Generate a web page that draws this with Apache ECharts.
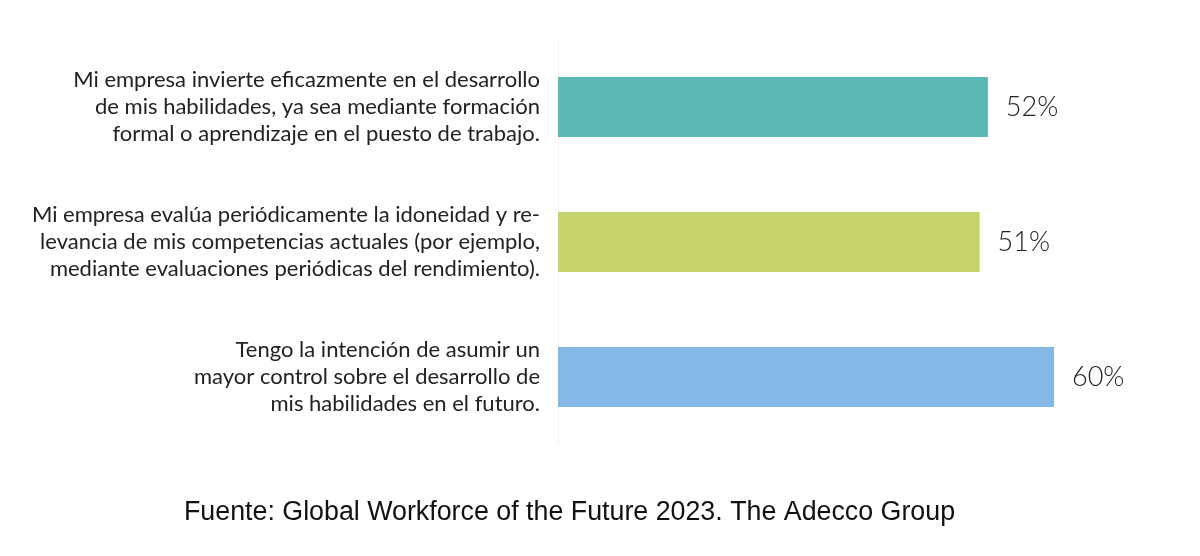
<!DOCTYPE html>
<html>
<head>
<meta charset="utf-8">
<script src="https://cdn.jsdelivr.net/npm/echarts@6/dist/echarts.min.js"></script>
<style>html,body{margin:0;padding:0;background:#fff;}#c{width:1200px;height:556px;}</style>
</head>
<body>
<div id="c"></div>
<script>
const categories = [
  "Mi empresa invierte eficazmente en el desarrollo\nde mis habilidades, ya sea mediante formación\nformal o aprendizaje en el puesto de trabajo.",
  "Mi empresa evalúa periódicamente la idoneidad y re-\nlevancia de mis competencias actuales (por ejemplo,\nmediante evaluaciones periódicas del rendimiento).",
  "Tengo la intención de asumir un\nmayor control sobre el desarrollo de\nmis habilidades en el futuro."
];
const values = [52, 51, 60];
const barColors = ["#5cb8b2", "#c4d36c", "#84b8e5"];
const sourceText = "Fuente: Global Workforce of the Future 2023. The Adecco Group";

const chart = echarts.init(document.getElementById('c'), null, {renderer: 'canvas'});
chart.setOption({
  backgroundColor: '#ffffff',
  animation: false,
  title: {
    text: sourceText,
    left: 179,
    top: 494,
    textStyle: {fontFamily: 'Liberation Sans, Arial, sans-serif', fontSize: 26.8, fontWeight: 'normal', color: '#111'}
  },
  grid: {left: 558, right: 146, top: 39.5, bottom: 111.5, containLabel: false},
  xAxis: {
    type: 'value', min: 0, max: 60, show: false
  },
  yAxis: {
    type: 'category',
    inverse: true,
    data: categories,
    axisLine: {show: true, lineStyle: {color: '#f4f4f4', width: 1}},
    axisTick: {show: false},
    axisLabel: {
      margin: 18,
      align: 'right',
      fontFamily: 'Lato, sans-serif',
      fontSize: 22,
      lineHeight: 27,
      color: '#222'
    }
  },
  series: [{
    type: 'bar',
    barWidth: 60,
    data: values.map((v, i) => ({value: v, itemStyle: {color: barColors[i]}})),
    label: {
      show: true,
      position: 'right',
      distance: 18,
      formatter: '{c}%',
      fontFamily: 'Lato, sans-serif',
      fontWeight: 300,
      fontSize: 27,
      color: '#222'
    }
  }]
});
</script>
</body>
</html>
